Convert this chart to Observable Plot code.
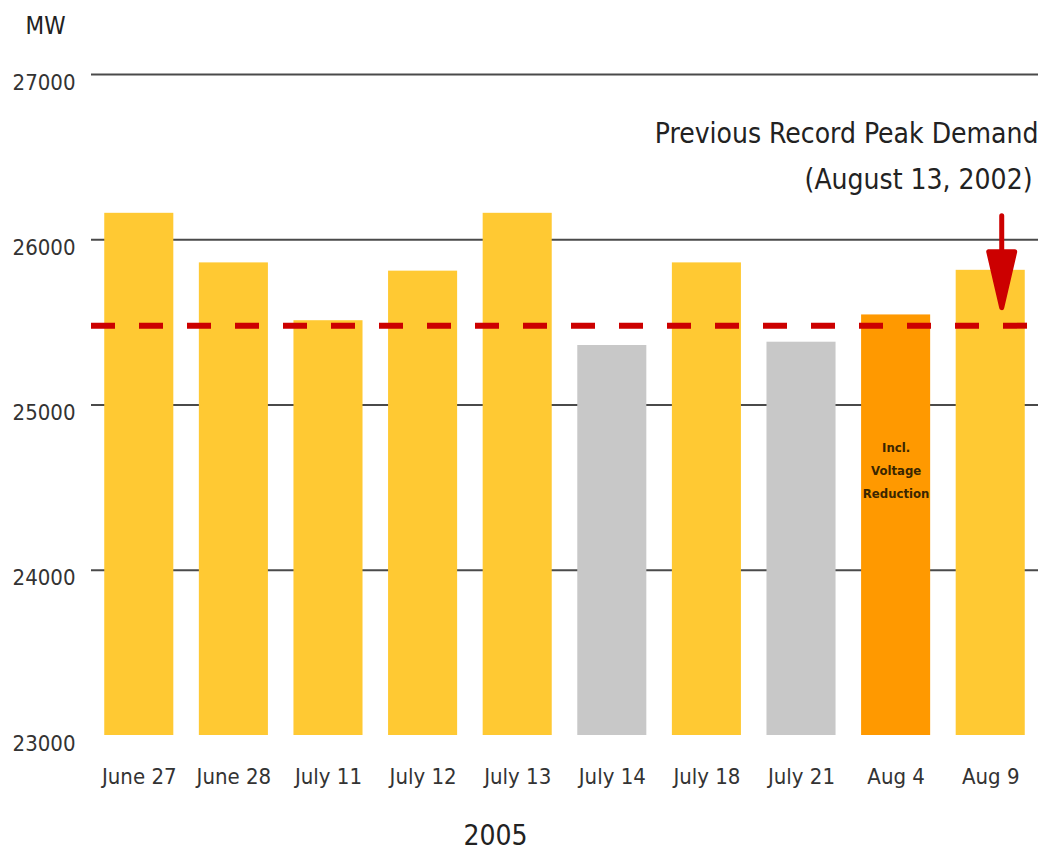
<!DOCTYPE html>
<html>
<head>
<meta charset="utf-8">
<script src="https://cdn.jsdelivr.net/npm/d3@7"></script>
<script src="https://cdn.jsdelivr.net/npm/@observablehq/plot@0.6"></script>
<style>
  html, body { margin: 0; padding: 0; background: #fff; }
  #chart svg { display: block; }
</style>
</head>
<body>
<div id="chart"></div>
<script>
const dates = ["June 27","June 28","July 11","July 12","July 13","July 14","July 18","July 21","Aug 4","Aug 9"];
const demand = [26160, 25860, 25510, 25810, 26160, 25360, 25860, 25380, 25545, 25815];
const kinds = ["peak","peak","peak","peak","peak","below","peak","below","voltage","peak"];
const previousRecord = 25480;
const yTicks = [23000, 24000, 25000, 26000, 27000];
const gridTicks = [24000, 25000, 26000, 27000];
const annotationLine1 = "Previous Record Peak Demand";
const annotationLine2 = "(August 13, 2002)";
const barNote = "Incl.\nVoltage\nReduction";
const yearLabel = "2005";
const unitLabel = "MW";

const data = dates.map((d, i) => ({date: d, value: demand[i], kind: kinds[i]}));
const fontFamily = "'Liberation Sans Narrow', 'DejaVu Sans Condensed', 'Roboto Condensed', 'Liberation Sans', sans-serif";

// custom arrow shape: shaft plus filled triangular head; tip at the vector's end (0,-l)
const arrowShape = {
  draw(context, l) {
    const headLen = 56, headHalf = 13;
    context.moveTo(0, 0);
    context.lineTo(0, -l + headLen);
    context.moveTo(-headHalf, -l + headLen);
    context.lineTo(0, -l);
    context.lineTo(headHalf, -l + headLen);
    context.closePath();
  }
};

const chart = Plot.plot({
  width: 1043,
  height: 850,
  marginTop: 74,
  marginBottom: 115,
  marginLeft: 91,
  marginRight: 5,
  style: {fontFamily, background: "#fff"},
  x: {domain: dates, paddingInner: 0.27, paddingOuter: 0.14, round: false, label: null},
  y: {domain: [23000, 27000], label: null},
  color: {domain: ["peak", "below", "voltage"], range: ["#ffc933", "#c8c8c8", "#ff9900"]},
  marks: [
    Plot.ruleY(gridTicks, {stroke: "#4a4a4a", strokeWidth: 2}),
    Plot.barY(data, {x: "date", y1: 23000, y2: "value", fill: "kind"}),
    Plot.ruleY([previousRecord], {stroke: "#cc0000", strokeWidth: 6, strokeDasharray: "24,24"}),
    Plot.vector([{date: "Aug 9", value: previousRecord}], {
      x: "date", y: "value", dx: 11, dy: -18, length: 92, rotate: 180, anchor: "end",
      shape: arrowShape, stroke: "#cc0000", fill: "#cc0000", strokeWidth: 5
    }),
    Plot.text([{date: "Aug 4", value: demand[dates.indexOf("Aug 4")]}], {
      x: "date", y: "value", text: () => barNote, lineAnchor: "top", dy: 121,
      fontSize: 13, fontWeight: "bold", lineHeight: 1.75, fill: "#3a2600"
    }),
    Plot.text([annotationLine1], {
      text: d => d, frameAnchor: "top-right", textAnchor: "end",
      dx: 0, dy: 49, fontSize: 28, fill: "#222"
    }),
    Plot.text([annotationLine2], {
      text: d => d, frameAnchor: "top-right", textAnchor: "end",
      dx: -6, dy: 95, fontSize: 28, fill: "#222"
    }),
    Plot.axisY({ticks: yTicks, tickFormat: d3.format("d"), tickSize: 0, tickPadding: 16, dy: 8, fontSize: 22, label: null, color: "#333"}),
    Plot.axisX({tickSize: 0, tickPadding: 33, fontSize: 22, label: null, color: "#333"}),
    Plot.text([yearLabel], {text: d => d, frameAnchor: "bottom-left", textAnchor: "middle", dx: 404, dy: 109, fontSize: 28, fill: "#222"}),
    Plot.text([unitLabel], {text: d => d, frameAnchor: "top-left", textAnchor: "start", dx: -66, dy: -58, fontSize: 24, fill: "#222"})
  ]
});

document.getElementById("chart").appendChild(chart);
</script>
</body>
</html>
